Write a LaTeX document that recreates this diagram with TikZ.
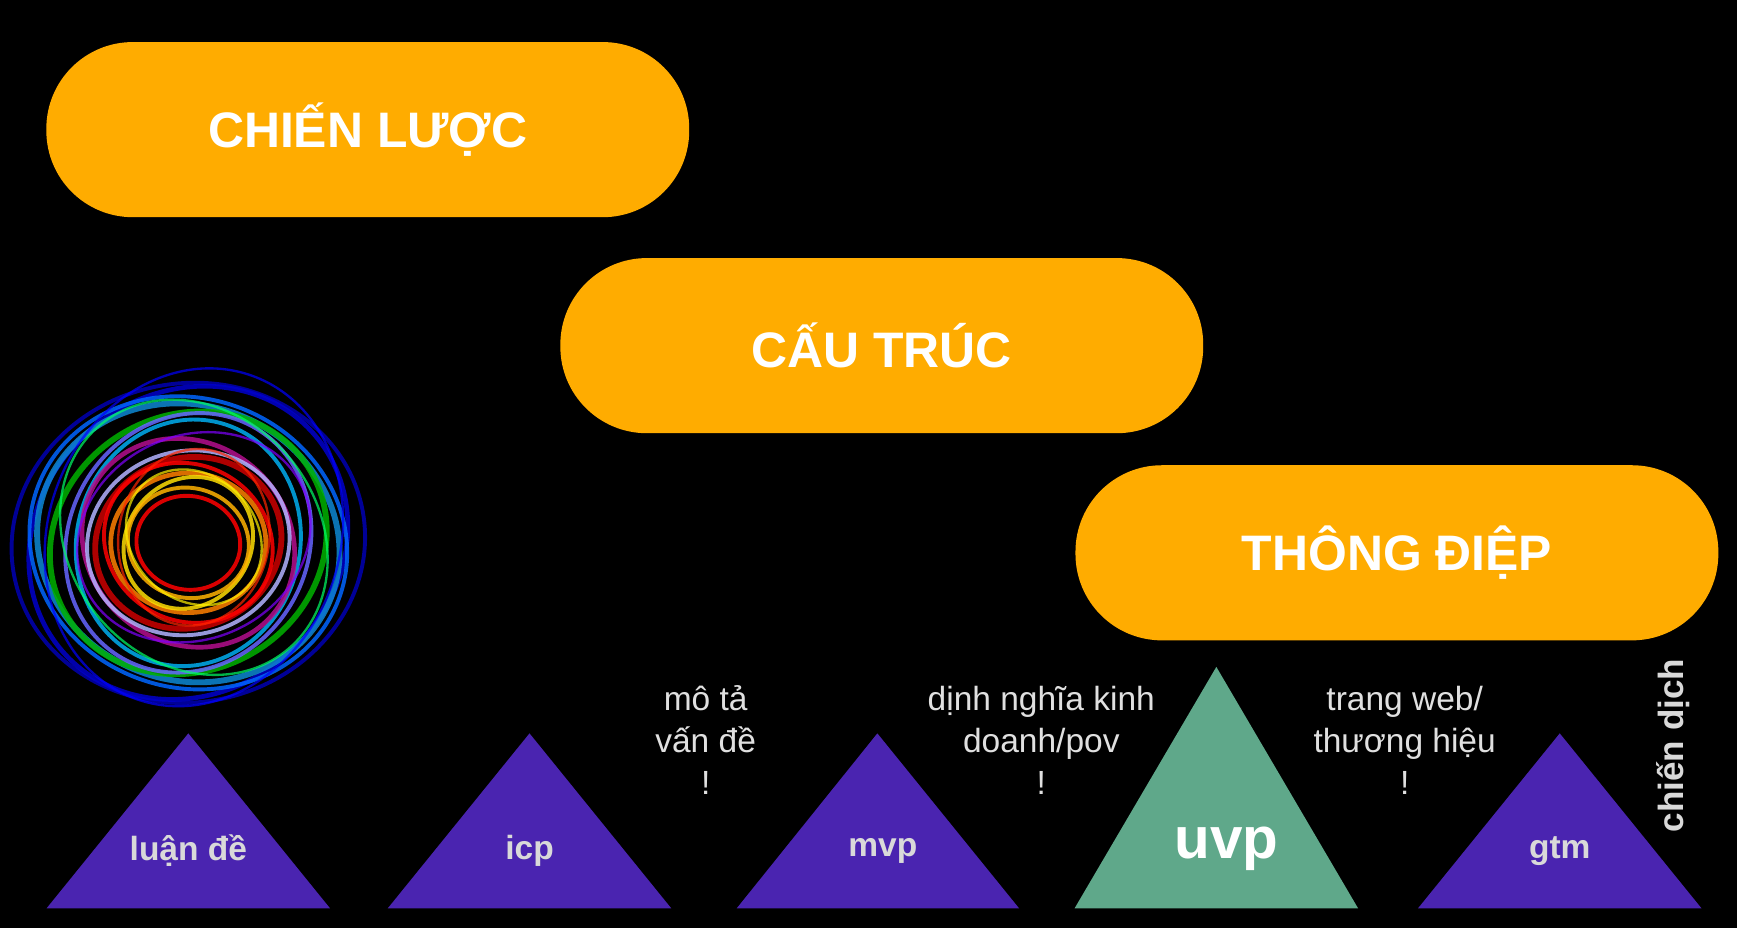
\documentclass[tikz,border=0pt]{standalone}
\usepackage{fontspec}
\setmainfont{Liberation Sans}
\begin{document}
\begin{tikzpicture}[x=0.01cm,y=-0.01cm,
 pill/.style={fill=pillc,rounded corners=0.78cm,minimum width=5.8cm,minimum height=1.58cm,text=white,font=\fontsize{12.8}{15}\selectfont\bfseries},
 lab/.style={text=white!85!black,font=\fontsize{8.6}{9.3}\selectfont\bfseries},
 note/.style={text=white!88!black,align=center,font=\fontsize{8.6}{10.8}\selectfont}]
\definecolor{pillc}{HTML}{FFAC00}
\definecolor{purp}{HTML}{4A24B0}
\definecolor{grn}{HTML}{5FA88A}
\fill[black] (0,0) rectangle (1568,838);
\useasboundingbox (0,0) rectangle (1568,838);
\node[pill] (p1) at (332,117) {CHIẾN LƯỢC};
\node[pill] (p2) at (796,312) {CẤU TRÚC};
\node[pill] (p3) at (1261,499) {THÔNG ĐIỆP};
% swirl
\foreach \r/\c/\a/\w in {160/blue!70!black/10/1,150/blue!80!black/40/1.2,145/blue!60!cyan/-20/1,138/cyan!70!blue/-20/1.5,128/green!70!black/30/1.5,120/blue!60!white/60/1,112/cyan/75/1,100/magenta!70!blue/-40/1.2,92/white!70!blue/15/1,85/red!80!black/20/1.5,78/red/-30/1,70/orange/0/1.2,62/yellow!80!orange/50/1,55/orange!60!yellow/-15/1,47/red/-10/1}{
 \draw[\c,line width=\w,opacity=0.85] (170,490) ellipse [x radius=\r,y radius=\r*0.9,rotate=\a];}
\foreach \r/\c/\a in {155/blue/70,132/green!60!cyan/-50,108/blue!50!magenta/25,80/red!70!orange/80,66/yellow/-45}{
 \draw[\c,line width=0.6,opacity=0.7] (175,485) ellipse [x radius=\r,y radius=\r*0.85,rotate=\a];}
% triangles
\fill[purp] (42,820) -- (170,662) -- (298,820) -- cycle;
\fill[purp] (350,820) -- (478,662) -- (606,820) -- cycle;
\fill[purp] (665,820) -- (792,662) -- (920,820) -- cycle;
\fill[grn] (970,820) -- (1098,602) -- (1226,820) -- cycle;
\fill[purp] (1280,820) -- (1408,662) -- (1536,820) -- cycle;
\node[lab] (t1) at (170,768) {luận đề};
\node[lab] (t2) at (478,768) {icp};
\node[lab] (t3) at (797,768) {mvp};
\node[text=white,font=\fontsize{15}{16}\selectfont\bfseries] (t4) at (1107,766) {uvp};
\node[lab] (t5) at (1408,768) {gtm};
\node[note] (n1) at (637,668) {mô tả\\vấn đề\\!};
\node[note] (n2) at (940,668) {dịnh nghĩa kinh\\doanh/pov\\!};
\node[note] (n3) at (1268,668) {trang web/\\thương hiệu\\!};
\node[lab,rotate=90,font=\fontsize{9}{10}\selectfont\bfseries] (n4) at (1510,673) {chiến dịch};
\end{tikzpicture}
\end{document}
